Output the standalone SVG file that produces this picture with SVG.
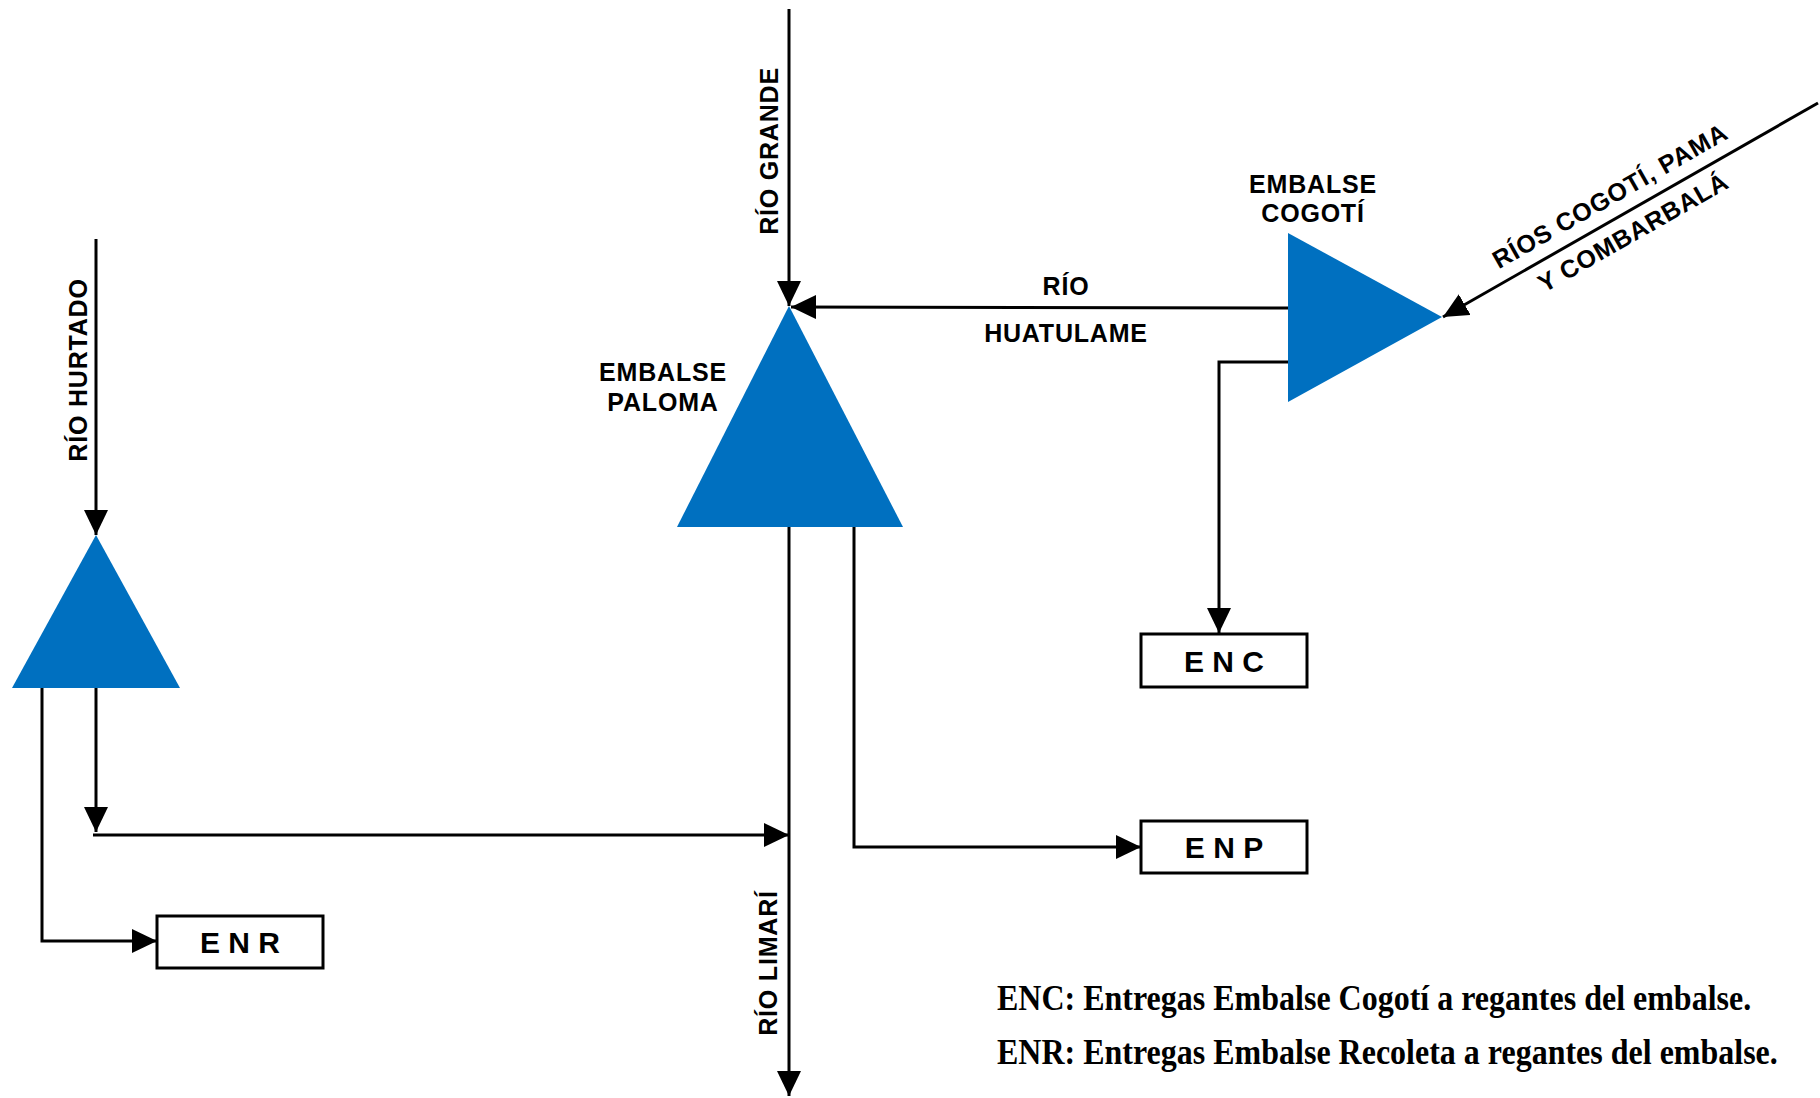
<svg xmlns="http://www.w3.org/2000/svg" width="1820" height="1098" viewBox="0 0 1820 1098">
<style>
.lbl{font-family:"Liberation Sans",Arial,sans-serif;font-weight:bold;font-size:25px;letter-spacing:0.8px;fill:#000}
.box{fill:#fff;stroke:#000;stroke-width:3}
.boxt{font-family:"Liberation Sans",Arial,sans-serif;font-weight:bold;font-size:30px;fill:#000;text-anchor:middle}
.res{fill:#0070C0}
.con{fill:none;stroke:#000;stroke-width:3}
.leg{font-family:"Liberation Serif","Times New Roman",serif;font-weight:bold;font-size:32px;fill:#000}
</style>
<defs>
<marker id="ah" markerUnits="userSpaceOnUse" markerWidth="25" markerHeight="24" refX="25" refY="12" orient="auto" viewBox="0 0 25 24">
<path d="M0,0 L25,12 L0,24 z" fill="#000"/>
</marker>
</defs>
<rect width="1820" height="1098" fill="#fff"/>
<g id="connectors">
<path class="con" d="M96,239 V535" marker-end="url(#ah)"/>
<path class="con" d="M96,688 V832" marker-end="url(#ah)"/>
<path class="con" d="M93,835 H789" marker-end="url(#ah)"/>
<path class="con" d="M42,688 V941 H157" marker-end="url(#ah)"/>
<path class="con" d="M789,9 V306" marker-end="url(#ah)"/>
<path class="con" d="M1288,308 L791,307" marker-end="url(#ah)"/>
<path class="con" d="M1818,103 L1443,317" marker-end="url(#ah)"/>
<path class="con" d="M1288,362 H1219 V633" marker-end="url(#ah)"/>
<path class="con" d="M789,527 V1096" marker-end="url(#ah)"/>
<path class="con" d="M854,527 V847 H1141" marker-end="url(#ah)"/>
</g>
<g id="embalse-recoleta">
<polygon class="res" points="96,535 180,688 12,688"/>
</g>
<g id="embalse-paloma">
<polygon class="res" points="789,306 903,527 677,527"/>
<text class="lbl" x="663" y="381" text-anchor="middle">EMBALSE</text>
<text class="lbl" x="663" y="411" text-anchor="middle">PALOMA</text>
</g>
<g id="embalse-cogoti">
<polygon class="res" points="1288,233 1442,317 1288,402"/>
<text class="lbl" x="1313" y="193" text-anchor="middle">EMBALSE</text>
<text class="lbl" x="1313" y="222" text-anchor="middle">COGOTÍ</text>
</g>
<g id="enc">
<rect class="box" x="1141" y="634" width="166" height="53"/>
<text class="boxt" x="1224" y="672">E N C</text>
</g>
<g id="enp">
<rect class="box" x="1141" y="821" width="166" height="52"/>
<text class="boxt" x="1224" y="858">E N P</text>
</g>
<g id="enr">
<rect class="box" x="157" y="916" width="166" height="52"/>
<text class="boxt" x="240" y="953">E N R</text>
</g>
<g id="labels">
<text class="lbl" text-anchor="middle" transform="translate(87,370) rotate(-90)">RÍO HURTADO</text>
<text class="lbl" text-anchor="middle" transform="translate(778,151) rotate(-90)">RÍO GRANDE</text>
<text class="lbl" text-anchor="middle" transform="translate(777,963) rotate(-90)">RÍO LIMARÍ</text>
<text class="lbl" x="1066" y="295" text-anchor="middle">RÍO</text>
<text class="lbl" x="1066" y="342" text-anchor="middle">HUATULAME</text>
<g transform="translate(1610,222) rotate(-29.7)">
<text class="lbl" x="13" y="-14" text-anchor="middle">RÍOS COGOTÍ, PAMA</text>
<text class="lbl" x="15" y="29" text-anchor="middle">Y COMBARBALÁ</text>
</g>
</g>
<g id="legend">
<text class="leg" transform="translate(997,1010) scale(1,1.12)">ENC: Entregas Embalse Cogotí a regantes del embalse.</text>
<text class="leg" transform="translate(997,1064) scale(1,1.12)">ENR: Entregas Embalse Recoleta a regantes del embalse.</text>
</g>
</svg>
